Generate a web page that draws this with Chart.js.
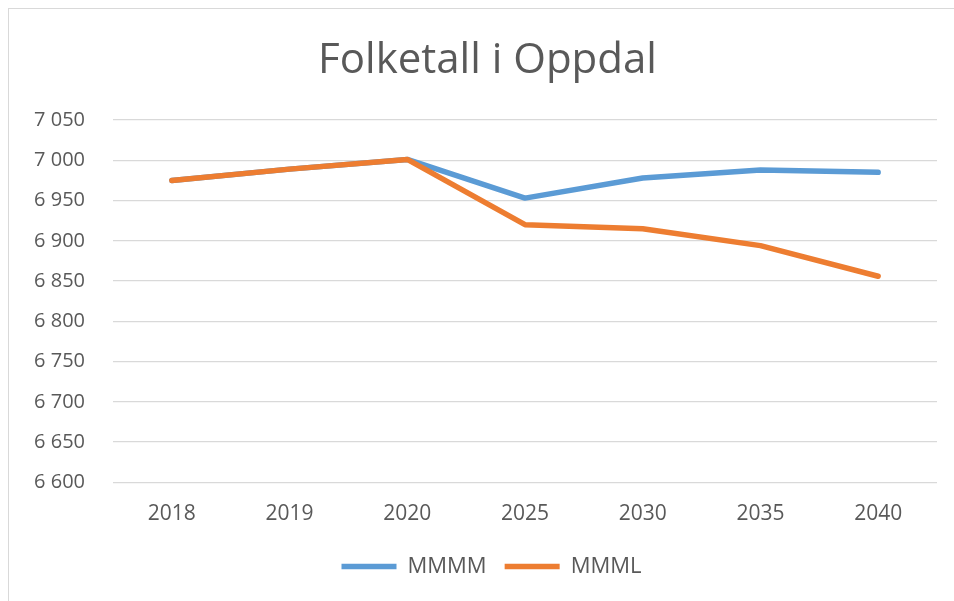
<!DOCTYPE html>
<html>
<head>
<meta charset="utf-8">
<script src="https://cdn.jsdelivr.net/npm/chart.js@4.4.0/dist/chart.umd.min.js"></script>
<style>
  body { margin: 0; background: #fff; }
  #wrap { position: relative; width: 954px; height: 601px; overflow: hidden; }
  #frame { position: absolute; left: 8px; top: 8px; width: 980px; height: 640px; border: 1.5px solid #d9d9d9; box-sizing: border-box; }
  canvas { position: absolute; left: 0; top: 0; }
</style>
</head>
<body>
<div id="wrap">
  <div id="frame"></div>
  <canvas id="myChart" width="954" height="601"></canvas>
</div>
<script>
// years on the x axis
const years = ["2018", "2019", "2020", "2025", "2030", "2035", "2040"];
// population projections
const mmmm = [6975, 6989, 7001, 6953, 6978, 6988, 6985];
const mmml = [6975, 6989, 7001, 6920, 6915, 6894, 6856];

const textColor = "#595959";
const fontName = "'Open Sans', 'Noto Sans', sans-serif";

// numbers like 7 050
function fmt(v) {
  return String(v).replace(/\B(?=(\d{3})+(?!\d))/g, " ");
}

// title and legend in the reference sit a bit right of the canvas centre
const shiftBlocks = {
  id: "shiftBlocks",
  afterLayout(chart) {
    chart.titleBlock.left = 38;
    chart.legend.left = 46;
  }
};

const ctx = document.getElementById("myChart").getContext("2d");
const chart = new Chart(ctx, {
  type: "line",
  data: {
    labels: years,
    datasets: [
      {
        label: "MMMM",
        data: mmmm,
        borderColor: "#5B9BD5",
        backgroundColor: "#5B9BD5",
        borderWidth: 5.5,
        borderCapStyle: "round",
        borderJoinStyle: "round",
        pointRadius: 0,
        tension: 0,
        order: 1
      },
      {
        label: "MMML",
        data: mmml,
        borderColor: "#ED7D31",
        backgroundColor: "#ED7D31",
        borderWidth: 5.5,
        borderCapStyle: "round",
        borderJoinStyle: "round",
        pointRadius: 0,
        tension: 0,
        order: 0 // orange on top
      }
    ]
  },
  plugins: [shiftBlocks],
  options: {
    responsive: false,
    animation: false,
    layout: { padding: { left: 0, right: 17, top: 0, bottom: 13.4 } },
    plugins: {
      title: {
        display: true,
        text: "Folketall i Oppdal",
        color: textColor,
        font: { family: fontName, size: 42, weight: "normal" },
        padding: { top: 36, bottom: 33.6 }
      },
      legend: {
        position: "bottom",
        labels: {
          color: textColor,
          font: { family: fontName, size: 22 },
          usePointStyle: true,
          pointStyle: "line",
          pointStyleWidth: 55,
          padding: 18,
          sort: (a, b) => a.datasetIndex - b.datasetIndex
        }
      },
      tooltip: { enabled: false }
    },
    scales: {
      x: {
        offset: true,
        grid: { display: false, offset: true },
        border: { display: false },
        ticks: { color: textColor, font: { family: fontName, size: 21 }, padding: 11 }
      },
      y: {
        min: 6600,
        max: 7050,
        grid: { color: "#d9d9d9", lineWidth: 1.3, drawTicks: false },
        border: { display: false },
        ticks: {
          stepSize: 50,
          color: textColor,
          font: { family: fontName, size: 20 },
          padding: 28,
          callback: value => fmt(value)
        },
        afterFit: scale => { scale.width = 113; }
      }
    }
  }
});
</script>
</body>
</html>
